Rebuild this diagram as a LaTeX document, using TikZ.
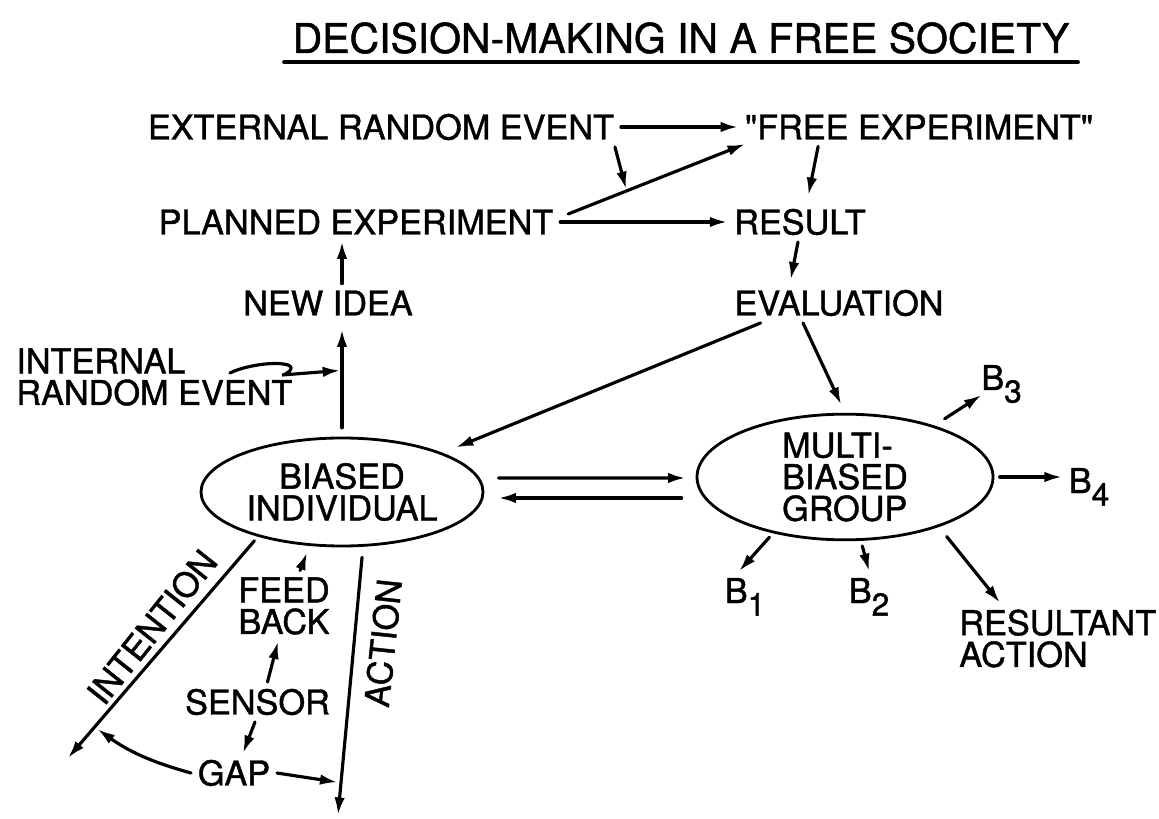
\documentclass[tikz,border=0pt]{standalone}
\usepackage{fontspec}
\setmainfont{TeX Gyre Heros}[FakeBold=1.2]
\usepackage{tikz}
\usetikzlibrary{arrows.meta,shapes.geometric}
\newcommand{\Bsub}[1]{B\raisebox{-0.7ex}{\fontsize{18}{18}\selectfont #1}}
\newcommand{\qt}{\XeTeXglyph\XeTeXglyphindex "quotedbl"\relax}
\begin{document}
\begin{tikzpicture}[>={Latex[length=10pt,width=6pt]},font=\fontsize{19.5}{18}\selectfont,line width=1.8pt,line cap=round,
  lbl/.style={inner sep=3pt},
  blob/.style={draw,ellipse,line width=1.6pt,inner sep=0pt,align=center}]
\useasboundingbox (0,0) rectangle (23.18,16.36);
\node[lbl,font=\fontsize{23.3}{26}\selectfont,inner sep=4pt] (title) at (13.62,15.60) {DECISION-MAKING IN A FREE SOCIETY};
\draw[line width=2.2pt] (title.south west) -- (title.south east);
\node[lbl] (ext) at (7.62,13.82) {EXTERNAL RANDOM EVENT};
\node[lbl] (free) at (18.38,13.82) {\qt FREE EXPERIMENT\qt};
\node[lbl] (planned) at (7.12,11.92) {PLANNED EXPERIMENT};
\node[lbl] (result) at (16.0,11.92) {RESULT};
\node[lbl] (eval) at (16.78,10.30) {EVALUATION};
\node[lbl] (idea) at (6.56,10.30) {NEW IDEA};
\node[lbl,align=left,anchor=west] (internal) at (0.19,8.82) {INTERNAL\\RANDOM EVENT};
\node[blob,minimum width=5.64cm,minimum height=2.16cm] (bi) at (6.84,6.52) {BIASED\\INDIVIDUAL};
\node[blob,align=left,minimum width=5.92cm,minimum height=2.28cm] (mbg) at (16.90,6.82) {MULTI-\\BIASED\\GROUP};
\node[lbl,anchor=base west] (b3) at (19.49,8.56) {\Bsub{3}};
\node[lbl,anchor=base west] (b4) at (21.24,6.50) {\Bsub{4}};
\node[lbl,anchor=base west] (b1) at (14.36,4.30) {\Bsub{1}};
\node[lbl,anchor=base west] (b2) at (16.84,4.30) {\Bsub{2}};
\node[lbl,align=left,anchor=west] (res) at (19.05,3.59) {RESULTANT\\ACTION};
\node[lbl,align=center] (fb) at (5.68,4.24) {FEED\\BACK};
\node[lbl] (sensor) at (5.15,2.32) {SENSOR};
\node[lbl] (gap) at (4.68,0.90) {GAP};
\node[lbl,rotate=51.5] (intlbl) at (3.04,3.82) {INTENTION};
\node[lbl,rotate=84] (actlbl) at (7.66,3.50) {ACTION};
\coordinate (wiggle) at (4.60,8.90);
\coordinate (intend) at (1.36,1.20);
\coordinate (actend) at (6.76,0.06);
% top row
\draw[->] (ext) -- (free);
\draw[->] ([shift={(0.16,0.16)}]planned.east) -- ([shift={(0.14,-0.34)}]free.west) coordinate[pos=0.33] (hit);
\draw[->,shorten >=1pt] ([xshift=-0.12cm]ext.south east) -- (hit);
\draw[->] (planned) -- (result);
\draw[->,shorten >=4pt] ([xshift=1.6cm]free.south west) -- ([xshift=0.14cm]result.north);
\draw[->,shorten >=2pt] ([xshift=-0.04cm]result.south) -- ([xshift=-0.98cm]eval.north);
\draw[->] (bi.north |- idea.north) -- (bi.north |- planned.south);
\draw[->,shorten <=5pt,shorten >=4pt] (bi.north) -- (bi.north |- idea.south) coordinate[pos=0.58] (irin);
\draw[->,shorten >=1pt] (wiggle) .. controls (4.9,9.05) and (5.5,9.14) .. (5.76,9.06) .. controls (5.92,9.0) and (5.72,8.86) .. (5.64,8.86) -- (irin);
% evaluation and the two blobs
\draw[->,shorten >=8pt] ([xshift=0.66cm]eval.south west) -- (bi.north east);
\draw[->,shorten >=5pt] ([xshift=-0.72cm]eval.south) -- (mbg.north);
\draw[->] ([shift={(0.28,0.28)}]bi.east) -- ([shift={(-0.2,-0.02)}]mbg.west);
\draw[->] ([shift={(-0.28,-0.42)}]mbg.west) -- ([shift={(0.28,-0.12)}]bi.east);
\draw[->,shorten <=7pt] (mbg.30) -- ([shift={(0.14,-0.1)}]b3.base west);
\draw[->,shorten <=3pt] (mbg.east) -- (mbg.east -| b4.west);
\draw[->,shorten <=3pt] (mbg.218) -- ([xshift=-0.12cm]b1.north);
\draw[->,shorten <=3pt] (mbg.284) -- (b2.north);
\draw[->,shorten <=7pt] (mbg.332) -- ([xshift=0.95cm]res.north west);
% loop below the individual
\draw[->,shorten <=3pt] (bi.208) -- (intend) coordinate[pos=0.86] (igap);
\draw[->,shorten <=6pt] (bi.291) -- (actend) coordinate[pos=0.88] (agap);
\draw[->,shorten >=4pt] ([xshift=0.32cm]fb.north) -- (bi.239);
\draw[->] ([xshift=0.2cm]sensor.north) -- ([xshift=-0.12cm]fb.south);
\draw[->] ([xshift=-0.05cm]sensor.south) -- ([xshift=0.18cm]gap.north);
\draw[->,shorten >=2pt] (gap.west) to[bend left=10] (igap);
\draw[->,shorten >=2pt] (gap.east) -- (agap);
\end{tikzpicture}
\end{document}
